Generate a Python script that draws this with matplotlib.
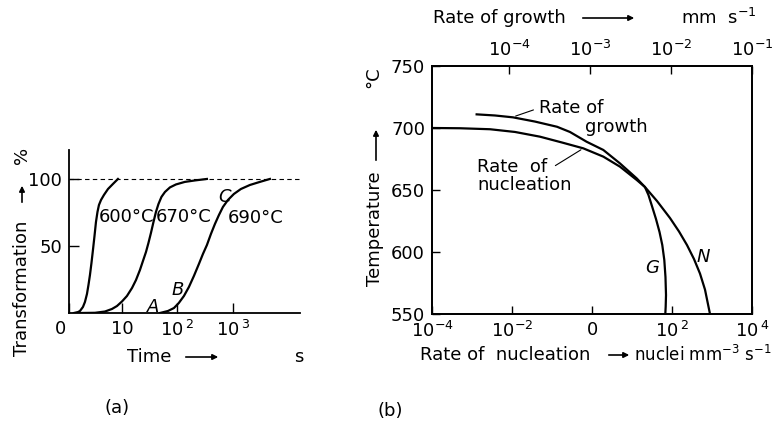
import matplotlib
matplotlib.use("Agg")
import matplotlib.pyplot as plt
from matplotlib.transforms import ScaledTranslation

plt.rcParams['font.family'] = ['DejaVu Sans']
plt.rcParams['mathtext.fontset'] = 'dejavusans'

# (a) fraccion transformada (%) frente al tiempo (s)
t600 = [1.36, 1.61, 1.75, 1.98, 2.15, 2.34, 2.49, 2.65, 2.82, 3.00, 3.20, 3.40,
        3.62, 3.85, 4.19, 4.74, 5.60, 6.89, 8.47]
p600 = [0, 0.7, 1.5, 4.5, 8.2, 14.2, 20.9, 28.4, 37.3, 47, 57.5, 67.9,
        75.4, 80.6, 84.3, 88.1, 92.5, 96.3, 100]
t670 = [1.75, 3.27, 4.94, 6.60, 8.13, 10, 12.3, 15.2, 17.9, 21.1, 23.9, 27.1,
        30.0, 33.3, 37.0, 41.0, 45.5, 51.5, 59.6, 73.3, 94, 136, 207, 340]
p670 = [0, 0.15, 1.1, 3.0, 5.2, 8.6, 12.7, 18.7, 24.6, 32.1, 38.8, 45.5,
        52.2, 59.7, 67.9, 75.4, 81.3, 86.6, 90.3, 93.7, 95.9, 97.8, 98.9, 100]
t690 = [48.4, 67.5, 86.5, 106, 131, 161, 198, 244, 288, 340, 402, 474,
        560, 661, 813, 1042, 1393, 2024, 3063, 4645]
p690 = [0, 1.5, 3.7, 7.5, 12.7, 19.4, 27.6, 36.6, 44.0, 50.7, 59.0, 66.4,
        73.1, 79.1, 84.3, 88.8, 92.5, 95.5, 97.8, 100]

# (b) velocidad de nucleacion (nuclei mm^-3 s^-1) y de crecimiento (mm s^-1)
nuc_rate = [1.06e-4, 5.0e-4, 2.82e-3, 1.19e-2, 5.0e-2, 0.178, 0.606, 1.92, 5.01,
            13.1, 21.1, 42.2, 89.1, 150, 237, 355, 501, 668, 891]
nuc_temp = [700, 699.8, 699, 696.8, 693.0, 688.3, 683.6, 676.9, 668.8,
            658.1, 652.4, 641.1, 627.4, 616.5, 605.6, 594.3, 582.6, 569.7, 550]
gro_rate = [3.99e-5, 6.71e-5, 1.12e-4, 2.09e-4, 3.92e-4, 5.66e-4, 9.10e-4, 1.46e-3,
            2.34e-3, 3.77e-3, 4.77e-3, 5.27e-3, 5.82e-3, 6.53e-3, 7.22e-3, 7.81e-3,
            8.27e-3, 8.55e-3, 8.68e-3, 8.60e-3, 8.51e-3]
gro_temp = [711.0, 710.1, 708.6, 705.2, 701.0, 696.8, 688.9, 682.3,
            671.5, 659.4, 652.4, 646.0, 637.1, 626.6, 616.1, 605.6,
            593.5, 579.8, 565.3, 555.9, 550]

W, H = 776, 422
fs = 13


def fx(x):
    return x / W


def fy(y):
    return 1 - y / H


fig = plt.figure(figsize=(W / 100, H / 100), dpi=100)

# ---------------- panel (a) ----------------
ax1 = fig.add_axes([fx(69), fy(313), (300 - 69) / W, (313 - 150) / H])
for t, p in [(t600, p600), (t670, p670), (t690, p690)]:
    ax1.plot(t, p, color='black', lw=1.6)
ax1.axhline(100, color='black', lw=0.8, ls=(0, (4, 3)))
ax1.set_xscale('log')
ax1.set_xlim(1.11, 16200)
ax1.set_ylim(0, 121.6)
ax1.spines['top'].set_visible(False)
ax1.spines['right'].set_visible(False)
for s in ['left', 'bottom']:
    ax1.spines[s].set_linewidth(1.3)
ax1.set_xticks([1.11, 10, 100, 1000])
ax1.set_xticklabels(['0', '10', '$10^{\\,2}$', '$10^{\\,3}$'], fontsize=fs)
ax1.xaxis.set_minor_locator(plt.NullLocator())
ax1.set_yticks([50, 100])
ax1.set_yticklabels(['50', '100'], fontsize=fs)
ax1.tick_params(direction='in', length=7, width=1, pad=5)
lab0 = ax1.get_xticklabels()[0]
lab0.set_transform(lab0.get_transform() + ScaledTranslation(-9 / 100, 0, fig.dpi_scale_trans))

fig.text(fx(99), fy(217), '600°C', fontsize=fs, va='center', ha='left')
fig.text(fx(156), fy(217), '670°C', fontsize=fs, va='center', ha='left')
fig.text(fx(228), fy(218), '690°C', fontsize=fs, va='center', ha='left')
fig.text(fx(225), fy(197), 'C', fontsize=fs, style='italic', va='center', ha='center')
fig.text(fx(178), fy(290), 'B', fontsize=fs, style='italic', va='center', ha='center')
fig.text(fx(153), fy(307), 'A', fontsize=fs, style='italic', va='center', ha='center')

fig.text(fx(22), fy(288), 'Transformation', fontsize=fs, rotation=90, va='center', ha='center')
fig.text(fx(22), fy(155), '%', fontsize=fs, rotation=90, va='center', ha='center')
fig.text(fx(149), fy(357), 'Time', fontsize=fs, va='center', ha='center')
fig.text(fx(299), fy(357), 's', fontsize=fs, va='center', ha='center')
fig.text(fx(117), fy(408), '(a)', fontsize=fs, va='center', ha='center')

arr = dict(arrowstyle='-|>', color='black', lw=1.2, mutation_scale=8)
fig.add_artist(plt.Annotation('', xy=(fx(22), fy(183)), xytext=(fx(22), fy(205)),
                              xycoords='figure fraction', arrowprops=arr))
fig.add_artist(plt.Annotation('', xy=(fx(221), fy(357)), xytext=(fx(183), fy(357)),
                              xycoords='figure fraction', arrowprops=arr))

# ---------------- panel (b) ----------------
ax2 = fig.add_axes([fx(432), fy(314), 320 / W, 248 / H])
ax2.plot(nuc_rate, nuc_temp, color='black', lw=1.6)
ax2.set_xscale('log')
ax2.set_xlim(1e-4, 1e4)
ax2.set_ylim(550, 750)
ax2.set_xticks([1e-4, 1e-2, 1, 1e2, 1e4])
ax2.set_xticklabels(['$10^{-4}$', '$10^{-2}$', '0', '$10^{\\,2}$', '$10^{\\,4}$'], fontsize=fs)
ax2.xaxis.set_minor_locator(plt.NullLocator())
ax2.set_yticks([550, 600, 650, 700, 750])
ax2.set_yticklabels(['550', '600', '650', '700', '750'], fontsize=fs)
ax2.tick_params(direction='in', length=6, width=1, pad=5)

ax2t = ax2.twiny()
ax2t.plot(gro_rate, gro_temp, color='black', lw=1.6)
ax2t.set_xscale('log')
ax2t.set_xlim(10 ** -4.95, 1e-1)
ax2t.set_xticks([1e-4, 1e-3, 1e-2, 1e-1])
ax2t.set_xticklabels(['$10^{-4}$', '$10^{-3}$', '$10^{-2}$', '$10^{-1}$'], fontsize=fs)
ax2t.xaxis.set_minor_locator(plt.NullLocator())
ax2t.tick_params(direction='in', length=6, width=1, pad=4)
for a in (ax2, ax2t):
    for s in a.spines.values():
        s.set_linewidth(1.3)

# etiquetas dentro del panel (b)
ax2.annotate('', xy=(1.06e-2, 708.9), xytext=(0.04, 715.3),
             arrowprops=dict(arrowstyle='-', color='black', lw=0.8))
ax2.annotate('', xy=(0.606, 683.6), xytext=(0.106, 668.5),
             arrowprops=dict(arrowstyle='-', color='black', lw=0.8))
fig.text(fx(539), fy(108), 'Rate of', fontsize=fs, va='center', ha='left')
fig.text(fx(585), fy(127), 'growth', fontsize=fs, va='center', ha='left')
fig.text(fx(477), fy(167), 'Rate  of', fontsize=fs, va='center', ha='left')
fig.text(fx(477), fy(185), 'nucleation', fontsize=fs, va='center', ha='left')
fig.text(fx(652), fy(268), 'G', fontsize=fs, style='italic', va='center', ha='center')
fig.text(fx(703), fy(257), 'N', fontsize=fs, style='italic', va='center', ha='center')

fig.text(fx(375), fy(229), 'Temperature', fontsize=fs, rotation=90, va='center', ha='center')
fig.text(fx(373), fy(77), '°C', fontsize=fs, rotation=90, va='center', ha='center')
fig.add_artist(plt.Annotation('', xy=(fx(376), fy(127)), xytext=(fx(376), fy(163)),
                              xycoords='figure fraction', arrowprops=arr))

fig.text(fx(433), fy(18), 'Rate of growth', fontsize=fs, va='center', ha='left')
fig.add_artist(plt.Annotation('', xy=(fx(637), fy(18)), xytext=(fx(580), fy(18)),
                              xycoords='figure fraction', arrowprops=arr))
fig.text(fx(756), fy(18), 'mm  s$^{-1}$', fontsize=fs, va='center', ha='right')

fig.text(fx(420), fy(355), 'Rate of  nucleation', fontsize=fs, va='center', ha='left')
fig.add_artist(plt.Annotation('', xy=(fx(632), fy(355)), xytext=(fx(606), fy(355)),
                              xycoords='figure fraction', arrowprops=arr))
fig.text(fx(634), fy(355), 'nuclei mm$^{-3}$ s$^{-1}$', fontsize=12, va='center', ha='left')
fig.text(fx(390), fy(411), '(b)', fontsize=fs, va='center', ha='center')

fig.savefig('out.png', dpi=100)
